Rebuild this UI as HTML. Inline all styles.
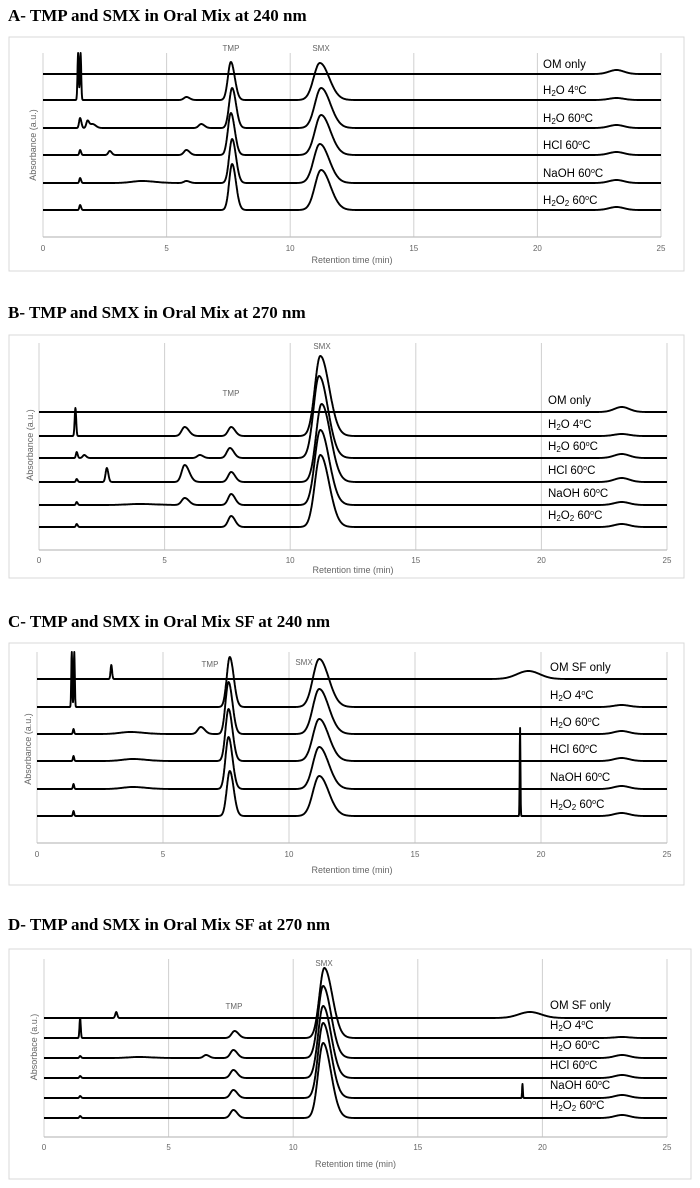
<!DOCTYPE html>
<html><head><meta charset="utf-8"><style>
html,body{margin:0;padding:0;background:#fff;}
svg{display:block;}
.t{font-family:"Liberation Serif",serif;font-weight:bold;font-size:17px;fill:#000;}
.l{font-family:"Liberation Sans",sans-serif;font-size:11.5px;fill:#000;}
.k{font-family:"Liberation Sans",sans-serif;font-size:8px;fill:#666;}
.a{font-family:"Liberation Sans",sans-serif;font-size:9px;fill:#666;}
</style></head><body>
<svg id="s" width="700" height="1188" viewBox="0 0 700 1188" xmlns="http://www.w3.org/2000/svg">
<text class="t" x="8" y="21">A-  TMP and SMX in Oral Mix at 240 nm</text>
<text class="t" x="8" y="318">B-  TMP and SMX in Oral Mix at 270 nm</text>
<text class="t" x="8" y="627">C-  TMP and SMX in Oral Mix SF at 240 nm</text>
<text class="t" x="8" y="930">D-  TMP and SMX in Oral Mix SF at 270 nm</text>
</svg>
<script>
var S=document.getElementById('s'),NS='http://www.w3.org/2000/svg';
function el(n,a,txt){var e=document.createElementNS(NS,n);for(var k in a)e.setAttribute(k,a[k]);if(txt!=null)e.textContent=txt;S.appendChild(e);return e;}
function pk(t,p){var d=t-p[0],s=p[2]||0.12,k=p[3]||1.3;if(d>0)s*=k;return p[1]*Math.exp(-0.5*d*d/(s*s));}
function lab2(x,y,parts){var t=el('text',{'class':'l',x:x,y:y});parts.forEach(function(p){var e=document.createElementNS(NS,'tspan');if(p[1])e.setAttribute('dy',p[1]);if(p[2])e.setAttribute('font-size',p[2]);e.textContent=p[0];t.appendChild(e);});}
function labels(lx,bs,first,off){
 var sets=[
  [[first]],
  [['H'],['2','2','8'],['O 4','-2'],['o','-4','7'],['C','4']],
  [['H'],['2','2','8'],['O 60','-2'],['o','-4','7'],['C','4']],
  [['HCl 60'],['o','-4','7'],['C','4']],
  [['NaOH 60'],['o','-4','7'],['C','4']],
  [['H'],['2','2','8'],['O','-2'],['2','2','8'],[' 60','-2'],['o','-4','7'],['C','4']]
 ];
 bs.forEach(function(b,j){lab2(lx,b-off,sets[j]);});
}
function panel(c){
 el('rect',{x:c.box[0],y:c.box[1],width:c.box[2],height:c.box[3],fill:'none',stroke:'#d9d9d9','stroke-width':1});
 var ppm=(c.x25-c.x0)/25;
 for(var i=0;i<=5;i++){var x=c.x0+i*5*ppm;
  el('line',{x1:x,y1:c.gt,x2:x,y2:c.ay,stroke:'#d0d0d0','stroke-width':1});
 }
 el('line',{x1:c.x0,y1:c.ay,x2:c.x25,y2:c.ay,stroke:'#bfbfbf','stroke-width':1.2});
 for(var i=0;i<=5;i++){el('text',{'class':'k',x:c.x0+i*5*ppm,y:c.ty,'text-anchor':'middle'},String(i*5));}
 el('text',{'class':'a',x:(c.x0+c.x25)/2,y:c.xl,'text-anchor':'middle'},'Retention time  (min)');
 el('text',{'class':'a',x:0,y:0,'text-anchor':'middle',transform:'translate('+c.yl[0]+','+c.yl[1]+') rotate(-90)'},c.ylab||'Absorbance (a.u.)');
 el('text',{'class':'k',x:c.tmp[0],y:c.tmp[1],'text-anchor':'middle'},'TMP');
 el('text',{'class':'k',x:c.smx[0],y:c.smx[1],'text-anchor':'middle'},'SMX');
 c.tr.forEach(function(P,j){
  var b=c.b[j],d='';
  for(var t=0;t<=25.001;t+=0.01){var y=0;for(var q=0;q<P.length;q++)y+=pk(t,P[q]);
   d+=(t==0?'M':'L')+(c.x0+t*ppm).toFixed(1)+','+(b-y).toFixed(1);}
  el('path',{d:d,fill:'none',stroke:'#000','stroke-width':1.9,'stroke-linejoin':'round'});
 });
 labels(c.lx,c.b,c.first,c.off);
}
var panels=[
 {box:[9,37,675,234],x0:43,x25:661,gt:53,ay:237,ty:251,xl:263,yl:[36,145],tmp:[231,51],smx:[321,51],lx:543,off:6,
  b:[74,100,128,155,183,210],first:'OM only',
  tr:[
   [[23.2,4,0.3,1]],
   [[1.42,47,0.025,1],[1.52,47,0.025,1],[5.8,3,0.1],[7.6,38,0.12,1.3],[11.2,37,0.25,1.5],[23.2,2,0.3,1]],
   [[1.5,10,0.04],[1.8,7,0.05],[2.0,4,0.1],[6.4,4,0.1],[7.65,40,0.12,1.3],[11.25,40,0.25,1.5],[23.2,3,0.3,1]],
   [[1.5,5,0.03],[2.7,4,0.06],[5.8,5,0.1],[7.6,42,0.12,1.3],[11.25,40,0.25,1.5],[23.2,3,0.3,1]],
   [[1.5,5,0.03],[4,2,0.4],[5.8,2,0.1],[7.65,44,0.12,1.3],[11.2,39,0.25,1.5],[23.2,3,0.3,1]],
   [[1.5,5,0.03],[7.65,46,0.12,1.3],[11.25,40,0.25,1.5],[23.2,3,0.3,1]]
  ]},
 {box:[9,335,675,243],x0:39,x25:667,gt:343,ay:550,ty:563,xl:573,yl:[33,445],tmp:[231,396],smx:[322,349],lx:548,off:8,
  b:[412,436,458,482,505,527],first:'OM only',
  tr:[
   [[23.2,5,0.3,1]],
   [[1.45,28,0.03,1],[5.8,9,0.12,1.4],[7.65,9,0.12,1.3],[11.2,80,0.22,1.6],[23.2,2,0.3,1]],
   [[1.5,6,0.03],[1.8,3,0.06],[6.4,3,0.1],[7.6,10,0.12,1.3],[11.15,82,0.22,1.6],[23.2,4,0.3,1]],
   [[1.5,3,0.03],[2.7,14,0.05,1.2],[5.8,17,0.12,1.5],[7.65,10,0.12,1.3],[11.25,78,0.22,1.6],[23.2,4,0.3,1]],
   [[1.5,3,0.03],[4,1,0.5],[5.8,7,0.12,1.4],[7.65,11,0.12,1.3],[11.2,75,0.22,1.6],[23.2,3,0.3,1]],
   [[1.5,3,0.03],[7.65,11,0.12,1.3],[11.2,72,0.22,1.6],[23.2,3,0.3,1]]
  ]},
 {box:[9,643,675,242],x0:37,x25:667,gt:652,ay:843,ty:857,xl:873,yl:[31,749],tmp:[210,667],smx:[304,665],lx:550,off:8,
  b:[679,707,734,761,789,816],first:'OM SF only',
  tr:[
   [[2.95,14,0.03,1],[19.5,8,0.45,1]],
   [[1.38,55,0.02,1],[1.48,55,0.02,1],[7.65,50,0.12,1.3],[11.2,48,0.25,1.5],[23.2,2,0.3,1]],
   [[1.45,5,0.025,1],[3.7,2,0.4],[6.5,7,0.12],[7.6,52,0.12,1.3],[11.2,45,0.25,1.5],[23.2,3,0.3,1]],
   [[1.45,5,0.025,1],[3.8,2,0.4],[7.6,52,0.12,1.3],[11.2,42,0.25,1.5],[23.2,3,0.3,1]],
   [[1.45,5,0.025,1],[3.8,2,0.4],[7.6,52,0.12,1.3],[11.2,42,0.25,1.5],[23.2,3,0.3,1]],
   [[1.45,5,0.025,1],[7.65,45,0.12,1.3],[11.2,40,0.25,1.5],[19.17,88,0.015,1],[23.2,3,0.3,1]]
  ]},
 {box:[9,949,682,230],x0:44,x25:667,gt:959,ay:1137,ty:1150,xl:1167,yl:[37,1047],ylab:'Absorbace (a.u.)',tmp:[234,1009],smx:[324,966],lx:550,off:9,
  b:[1018,1038,1058,1078,1098,1118],first:'OM SF only',
  tr:[
   [[2.9,6,0.04,1],[19.5,6,0.45,1]],
   [[1.45,20,0.025,1],[7.65,7,0.12,1.3],[11.25,70,0.2,1.6],[23.2,1,0.3,1]],
   [[1.45,2,0.03],[3.8,1,0.4],[6.5,3,0.1],[7.6,8,0.12,1.3],[11.2,72,0.2,1.6],[23.2,3,0.3,1]],
   [[1.45,2,0.03],[7.6,8,0.12,1.3],[11.2,72,0.2,1.6],[23.2,3,0.3,1]],
   [[1.45,2,0.03],[7.6,8,0.12,1.3],[11.2,75,0.2,1.6],[19.2,14,0.015,1],[23.2,3,0.3,1]],
   [[1.45,2,0.03],[7.6,8,0.12,1.3],[11.2,75,0.2,1.6],[23.2,3,0.3,1]]
  ]}
];
panels.forEach(panel);
</script>
</body></html>
